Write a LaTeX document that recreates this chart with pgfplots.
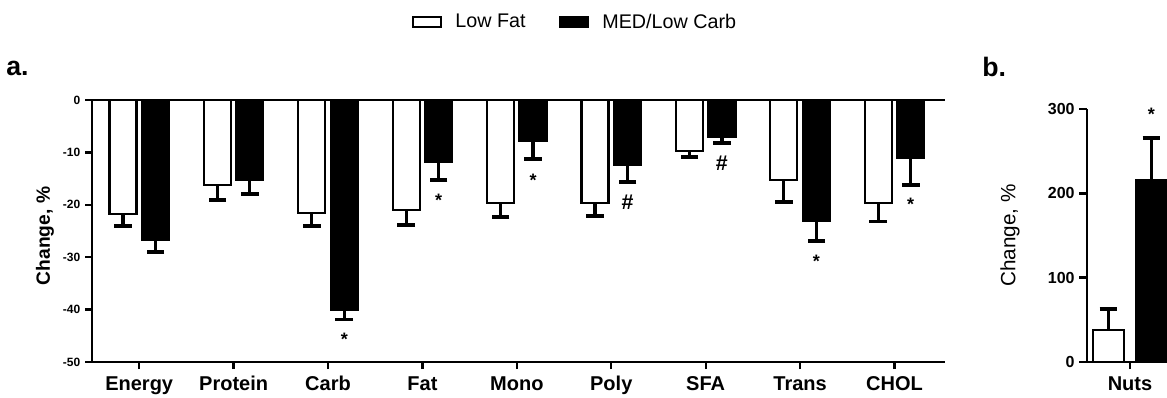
\documentclass[border=0pt]{standalone}
\usepackage{fontspec}
\setmainfont{Liberation Sans}
\usepackage{pgfplots}
\pgfplotsset{compat=1.18}
\pgfplotsset{
  common/.style={
    scale only axis,
    ybar,
    axis x line*=bottom,
    axis y line*=left,
    axis line style={-, line width=1.7pt, black},
    tick style={line width=1.7pt, black},
    tick align=outside,
    major tick length=5.25pt,
    /pgf/number format/assume math mode=true,
    every axis plot/.append style={line width=1.7pt},
    clip=false,
  },
  errb/.style={error bars/.cd, y dir=#1, y explicit,
    error bar style={line width=2.4pt, black},
    error mark=|,
    error mark options={line width=2.8pt, mark size=6.6pt, black}},
  legimg/.style={legend image code/.code={\draw[line width=1.5pt, draw=black, fill=#1] (0pt,-3.75pt) rectangle (21pt,3.75pt);}},
}
\begin{document}
\begin{tikzpicture}[x=0.75pt,y=0.75pt]
\path[use as bounding box, clip] (0,0) rectangle (1167,397);
\node[anchor=base west, inner sep=0, font=\fontsize{20}{24}\selectfont\bfseries] at (6,321) {a.};
\node[anchor=base west, inner sep=0, font=\fontsize{20}{24}\selectfont\bfseries] at (982,320.3) {b.};
\begin{axis}[common,
  at={(69pt,26.25pt)}, anchor=south west,
  width=639.75pt, height=196.5pt,
  xmin=-0.5, xmax=8.535, ymin=-50, ymax=0,
  bar width=0.286,
  xtick={0,...,8},
  xticklabels={Energy,Protein,Carb,Fat,Mono,Poly,SFA,Trans,CHOL},
  ytick={-50,-40,-30,-20,-10,0},
  yticklabels={-50,-40,-30,-20,-10,0},
  xticklabel style={font=\fontsize{15}{18}\selectfont\bfseries, yshift=-2pt},
  yticklabel style={font=\fontsize{9}{11}\selectfont\bfseries},
  ylabel={Change, \%},
  every axis y label/.style={at={(axis description cs:-0.0551,0.481)}, rotate=90, anchor=center, font=\fontsize{14.4}{17}\selectfont\bfseries},
  legend columns=2,
  legend style={at={(axis description cs:0.375,1.298)}, anchor=west, draw=none, fill=none, inner sep=0pt,
    font=\fontsize{14.8}{17}\selectfont,
    /tikz/every odd column/.append style={column sep=8pt},
    /tikz/every even column/.append style={column sep=23pt}},
]
\addplot[fill=white, draw=black, bar shift=-0.172, legimg=white, errb=minus] coordinates {
 (0,-21.8) +- (0,2.3)
 (1,-16.2) +- (0,2.9)
 (2,-21.6) +- (0,2.5)
 (3,-21.0) +- (0,2.9)
 (4,-19.6) +- (0,2.7)
 (5,-19.6) +- (0,2.6)
 (6,-9.7)  +- (0,1.2)
 (7,-15.2) +- (0,4.2)
 (8,-19.6) +- (0,3.6)
};
\addlegendentry{Low Fat}
\addplot[fill=black, draw=black, bar shift=0.172, legimg=black, errb=minus] coordinates {
 (0,-26.6) +- (0,2.4)
 (1,-15.3) +- (0,2.7)
 (2,-40.0) +- (0,1.9)
 (3,-11.8) +- (0,3.5)
 (4,-7.8)  +- (0,3.5)
 (5,-12.4) +- (0,3.3)
 (6,-7.0)  +- (0,1.2)
 (7,-23.1) +- (0,3.8)
 (8,-11.1) +- (0,5.1)
};
\addlegendentry{MED/Low Carb}
\draw[line width=1.7pt] (axis cs:-0.5,0) -- (axis cs:8.535,0);
\begin{scope}[every node/.style={inner sep=0pt, font=\fontsize{13.5}{16}\selectfont\bfseries}]
\node[anchor=north] at (axis cs:2.172,-44.5) {*};
\node[anchor=north] at (axis cs:3.172,-17.9) {*};
\node[anchor=north] at (axis cs:4.172,-14.1) {*};
\node[anchor=center, font=\fontsize{16}{18}\selectfont\bfseries] at (axis cs:5.172,-19.6) {\#};
\node[anchor=center, font=\fontsize{16}{18}\selectfont\bfseries] at (axis cs:6.172,-12.0) {\#};
\node[anchor=north] at (axis cs:7.172,-29.5) {*};
\node[anchor=north] at (axis cs:8.172,-18.7) {*};
\end{scope}
\end{axis}
\begin{axis}[common,
  at={(815pt,26.5pt)}, anchor=south west,
  width=85pt, height=189.3pt,
  xmin=-43.3, xmax=70, ymin=0, ymax=300,
  bar width=31,
  xtick={0}, xticklabels={Nuts},
  ytick={0,100,200,300},
  major tick length=5.5pt,
  xticklabel style={font=\fontsize{15}{18}\selectfont\bfseries, yshift=-2pt},
  yticklabel style={font=\fontsize{12}{14}\selectfont\bfseries},
  ylabel={Change, \%},
  every axis y label/.style={at={(axis description cs:-0.677,0.5)}, rotate=90, anchor=center, font=\fontsize{15.5}{18}\selectfont},
]
\addplot[fill=white, draw=black, bar shift=-21.5, errb=plus] coordinates {(0,37.7) +- (0,24.6)};
\addplot[fill=black, draw=black, bar shift=21.5, errb=plus] coordinates {(0,216) +- (0,50)};
\node[anchor=north, inner sep=0pt, font=\fontsize{13.5}{16}\selectfont\bfseries] at (axis cs:21.5,301.3) {*};
\end{axis}
\end{tikzpicture}
\end{document}
